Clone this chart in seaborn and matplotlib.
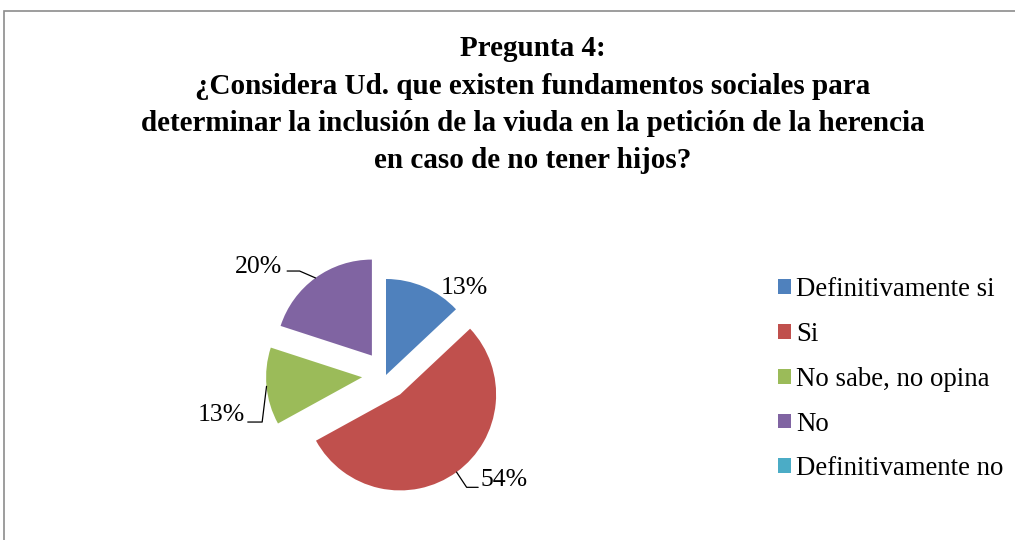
import numpy as np
import matplotlib
matplotlib.use("Agg")
import matplotlib.pyplot as plt
from matplotlib.patches import Rectangle
import seaborn as sns

# Data
categories = ["Definitivamente si", "Si", "No sabe, no opina", "No", "Definitivamente no"]
percent = [13, 54, 13, 20, 0]
pct_labels = ["13%", "54%", "13%", "20%", ""]
colors = ["#4F81BD", "#C0504D", "#9BBB59", "#8064A2", "#4BACC6"]

title = ("Pregunta 4:\n"
         "¿Considera Ud. que existen fundamentos sociales para\n"
         "determinar la inclusión de la viuda en la petición de la herencia\n"
         "en caso de no tener hijos?")

sns.set_theme(style="white")
plt.rcParams["font.family"] = ["Liberation Serif", "DejaVu Serif"]
plt.rcParams["text.color"] = "black"

W, H = 1015, 540
fig = plt.figure(figsize=(W / 100, H / 100), dpi=100)

# pie axes: centre at pixel (386, 375), radius 96 px
R = 96
side = 360
cx, cy = 386, H - 375
ax = fig.add_axes([(cx - side / 2) / W, (cy - side / 2) / H, side / W, side / H])

palette = sns.color_palette(colors)
wedges, _ = ax.pie(percent, colors=palette, startangle=90, counterclock=False,
                   explode=[0, 0.25, 0.25, 0.25, 0],
                   wedgeprops=dict(linewidth=0))
L = side / 2 / R
ax.set_xlim(-L, L)
ax.set_ylim(-L, L)
ax.set_axis_off()

# label placement (elbow, end of leader, text position, alignment)
label_style = [
    dict(elbow=None, end=None, text=(0.82, 0.905), ha="center"),
    dict(elbow=(0.84, -1.17), end=(0.96, -1.17), text=(0.98, -1.09), ha="left"),
    dict(elbow=(-1.29, -0.49), end=(-1.44, -0.49), text=(-1.465, -0.42), ha="right"),
    dict(elbow=(-0.90, 1.083), end=(-1.03, 1.083), text=(-1.08, 1.125), ha="right"),
    None,
]

for w, lab, st in zip(wedges, pct_labels, label_style):
    if st is None or not lab:
        continue
    mid = np.deg2rad((w.theta1 + w.theta2) / 2)
    x0 = w.center[0] + w.r * np.cos(mid)
    y0 = w.center[1] + w.r * np.sin(mid)
    if st["elbow"] is not None:
        xs = [x0, st["elbow"][0], st["end"][0]]
        ys = [y0, st["elbow"][1], st["end"][1]]
        ax.plot(xs, ys, color="black", lw=0.9, clip_on=False)
    ax.text(st["text"][0], st["text"][1], lab, ha=st["ha"], va="center",
            fontsize=18.5, color="black", clip_on=False)

fig.text(533 / W, 1 - 35 / H, title, ha="center", va="top", fontsize=21,
         fontweight="bold", linespacing=1.5, color="black")

leg = fig.legend(wedges, categories, loc="upper left",
                 bbox_to_anchor=(778 / W, 1 - 277 / H), frameon=False,
                 fontsize=19.3, handlelength=0.47, handleheight=0.47,
                 handletextpad=0.22, labelspacing=0.74, borderaxespad=0,
                 borderpad=0)
for t in leg.get_texts():
    t.set_color("black")

# chart area border (cut off on right and bottom in the reference)
fig.add_artist(Rectangle((4 / W, -0.1), 1.2, 1 - 11 / H + 0.1,
                         transform=fig.transFigure, fill=False,
                         edgecolor="#8c8c8c", lw=1.2))

fig.savefig("out.png", dpi=100)
